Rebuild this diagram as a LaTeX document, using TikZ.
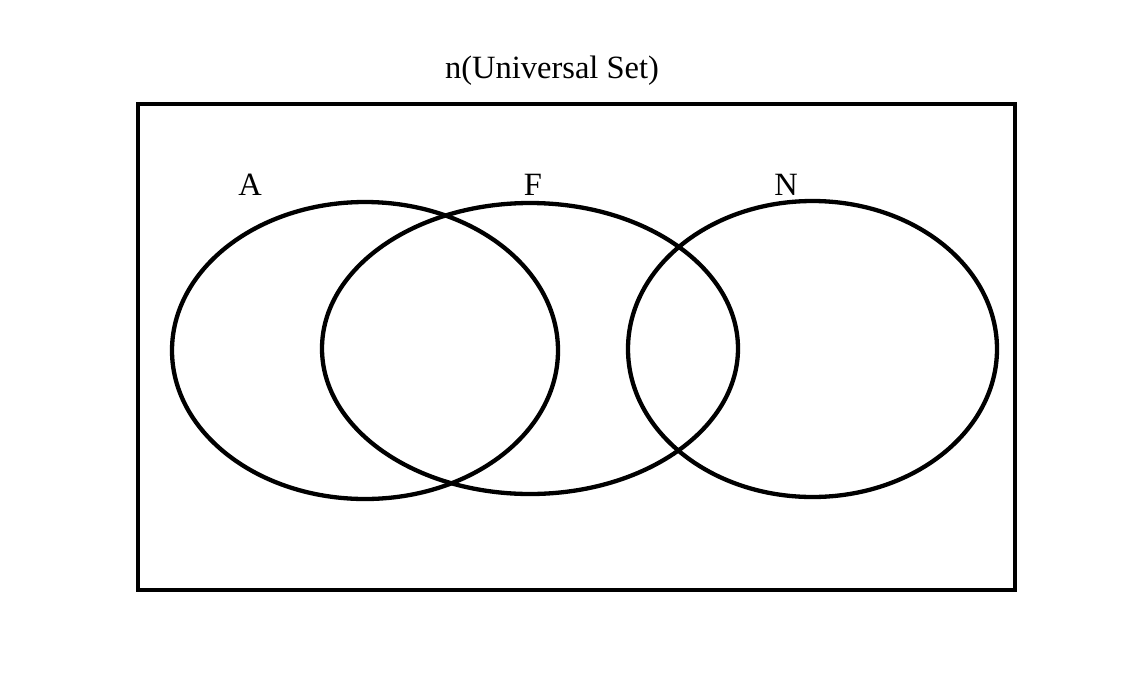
\documentclass[tikz,border=0pt]{standalone}
\usepackage{fontspec}
\setmainfont{Liberation Serif}
\begin{document}
\begin{tikzpicture}[x=1pt,y=-1pt,
  setline/.style={line width=4.3pt, draw=black},
  lbl/.style={font=\fontsize{32.5}{38}\selectfont, inner sep=0pt}]
\useasboundingbox (0,0) rectangle (1146,694);
\node[lbl] (title) at (552,71) {n(Universal Set)};
\draw[setline] (138,104) rectangle (1015,590);
\draw[setline] (365,350.5) ellipse [x radius=193, y radius=148.5];
\draw[setline] (530,348.5) ellipse [x radius=208, y radius=145.5];
\draw[setline] (812.5,349) ellipse [x radius=184.5, y radius=148];
\node[lbl] (A) at (250,185) {A};
\node[lbl] (F) at (533,185) {F};
\node[lbl] (N) at (786,185) {N};
\end{tikzpicture}
\end{document}
